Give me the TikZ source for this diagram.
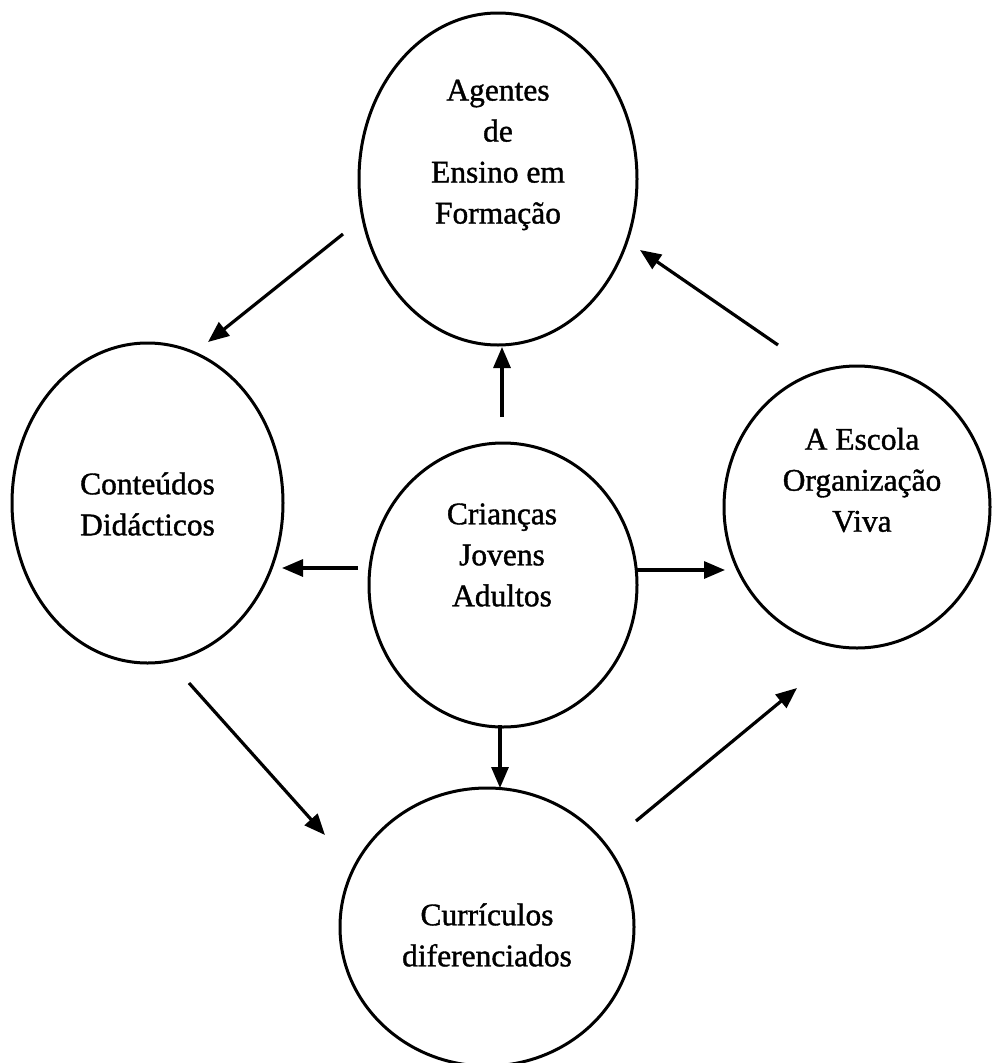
\documentclass[tikz,border=0pt]{standalone}
\usepackage{fontspec}
\setmainfont{Liberation Serif}[FakeBold=1.2]
\usetikzlibrary{shapes.geometric,arrows.meta}

\tikzset{
  blob/.style={draw=black, line width=3pt, ellipse, inner sep=0pt},
  lbl/.style={align=center, inner sep=0pt, font=\fontsize{31.5}{41}\selectfont},
  arr/.style={line width=3.2pt, -{Triangle[length=21pt,width=17pt]}},
}

\begin{document}
\begin{tikzpicture}[x=1pt,y=-1pt]
  \useasboundingbox (0,0) rectangle (991,1063);

  % the five ellipses
  \node[blob, minimum width=278pt, minimum height=332pt] (top)    at (498,179)   {};
  \node[blob, minimum width=271pt, minimum height=320pt] (left)   at (147.5,503) {};
  \node[blob, minimum width=268pt, minimum height=284pt] (centre) at (503,585)   {};
  \node[blob, minimum width=266pt, minimum height=282pt] (right)  at (857,507)   {};
  \node[blob, minimum width=294pt, minimum height=278pt] (bottom) at (487,927)   {};

  % their texts
  \node[lbl] (top-t)    at ([shift={(0,-24)}]top.center)    {Agentes\\de\\Ensino em\\Formação};
  \node[lbl] (left-t)   at ([shift={(0,1)}]left.center)     {Conteúdos\\Didácticos};
  \node[lbl] (centre-t) at ([shift={(-1,-30)}]centre.center){Crianças\\Jovens\\Adultos};
  \node[lbl] (right-t)  at ([shift={(5,-27)}]right.center)  {A Escola\\Organização\\Viva};
  \node[lbl] (bottom-t) at ([shift={(0,8)}]bottom.center)   {Currículos\\diferenciados};

  % outer cycle
  \draw[arr] ([shift={(-155,55)}]top.center)   -- ([shift={(60.5,-161)}]left.center);
  \draw[arr] ([shift={(41.5,180)}]left.center) -- ([shift={(-162,-92)}]bottom.center);
  \draw[arr] ([shift={(149,-106)}]bottom.center) -- ([shift={(-60,181)}]right.center);
  \draw[arr] ([shift={(-79,-162)}]right.center) -- ([shift={(142,71)}]top.center);

  % from the centre outwards
  \draw[arr] ([shift={(-1,-168)}]centre.center) -- ([shift={(4,168)}]top.center);
  \draw[arr] ([shift={(-145,-17)}]centre.center) -- ([shift={(134.5,65)}]left.center);
  \draw[arr] ([shift={(132,-15)}]centre.center) -- ([shift={(-132,63)}]right.center);
  \draw[arr] ([shift={(-3,140)}]centre.center) -- ([shift={(13,-139)}]bottom.center);
\end{tikzpicture}
\end{document}
